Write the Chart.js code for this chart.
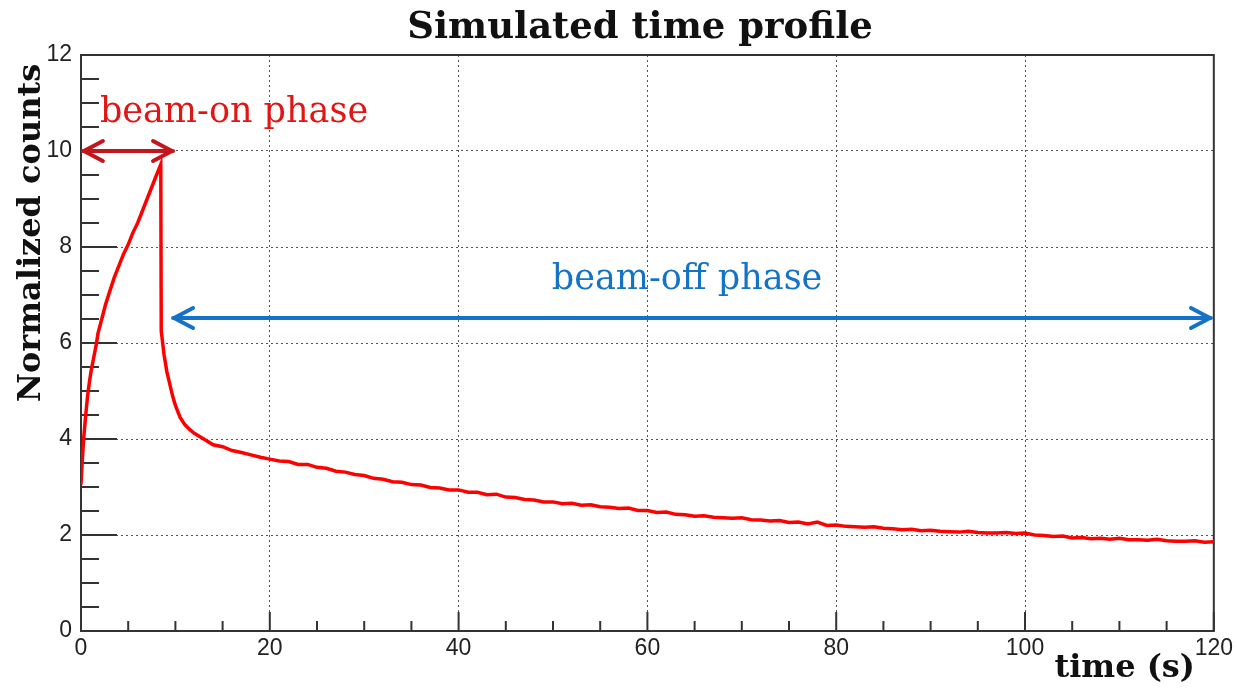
<!DOCTYPE html>
<html>
<head>
<meta charset="utf-8">
<script src="https://cdn.jsdelivr.net/npm/chart.js@4"></script>
<style>
  body { margin: 0; background: #fff; }
  #wrap { width: 1237px; height: 691px; }
</style>
</head>
<body>
<div id="wrap"><canvas id="myChart" width="1237" height="691"></canvas></div>
<script>
// beam-on (rise) part
const riseTimes = [0, 0.15, 0.3, 0.5, 0.7, 0.9, 1.1, 1.35, 1.6, 1.8, 2.2, 2.6, 3.0, 3.5, 4.0, 4.5, 5.0, 5.5, 6.0, 6.5, 7.0, 7.5, 8.0, 8.45];
const riseCounts = [3.05, 3.6, 4.05, 4.5, 4.9, 5.2, 5.45, 5.7, 5.95, 6.2, 6.5, 6.8, 7.05, 7.35, 7.6, 7.85, 8.05, 8.3, 8.5, 8.75, 9.0, 9.25, 9.5, 9.72];

// fast drop right after beam stops
const dropTimes = [8.5, 8.8, 9.1, 9.4, 9.7, 10.0, 10.5, 11, 11.5, 12, 13, 14, 15, 16, 17, 18, 19];
const dropCounts = [6.25, 5.75, 5.4, 5.15, 4.9, 4.7, 4.45, 4.3, 4.2, 4.12, 4.0, 3.88, 3.84, 3.76, 3.72, 3.67, 3.62];

// slow tail, one reading per second
const tailTimes = [20, 21, 22, 23, 24, 25, 26, 27, 28, 29,
  30, 31, 32, 33, 34, 35, 36, 37, 38, 39,
  40, 41, 42, 43, 44, 45, 46, 47, 48, 49,
  50, 51, 52, 53, 54, 55, 56, 57, 58, 59,
  60, 61, 62, 63, 64, 65, 66, 67, 68, 69,
  70, 71, 72, 73, 74, 75, 76, 77, 78, 79,
  80, 81, 82, 83, 84, 85, 86, 87, 88, 89,
  90, 91, 92, 93, 94, 95, 96, 97, 98, 99,
  100, 101, 102, 103, 104, 105, 106, 107, 108, 109,
  110, 111, 112, 113, 114, 115, 116, 117, 118, 119, 120];
const tailCounts = [3.58, 3.54, 3.53, 3.47, 3.47, 3.41, 3.39, 3.33, 3.31, 3.26,
  3.24, 3.18, 3.16, 3.11, 3.10, 3.05, 3.04, 2.99, 2.98, 2.94,
  2.94, 2.89, 2.89, 2.84, 2.85, 2.79, 2.78, 2.74, 2.73, 2.69,
  2.69, 2.65, 2.66, 2.62, 2.63, 2.59, 2.58, 2.55, 2.56, 2.51,
  2.51, 2.47, 2.48, 2.43, 2.42, 2.39, 2.40, 2.37, 2.36, 2.35,
  2.36, 2.32, 2.31, 2.29, 2.30, 2.26, 2.27, 2.23, 2.27, 2.20,
  2.21, 2.18, 2.17, 2.16, 2.17, 2.14, 2.13, 2.11, 2.12, 2.09,
  2.10, 2.08, 2.07, 2.06, 2.08, 2.05, 2.04, 2.04, 2.05, 2.03,
  2.04, 2.00, 1.99, 1.97, 1.98, 1.94, 1.95, 1.92, 1.93, 1.91,
  1.93, 1.90, 1.90, 1.89, 1.91, 1.88, 1.87, 1.87, 1.88, 1.85, 1.86];

const xTicks = [0, 20, 40, 60, 80, 100, 120];
const yTicks = [0, 2, 4, 6, 8, 10, 12];

// arrows and labels, in data units
const beamOnArrow = [0.2, 9.75, 10];
const beamOffArrow = [9.75, 119.7, 6.52];
const beamOnText = ['beam-on phase', 2.0, 10.79];
const beamOffText = ['beam-off phase', 64.2, 7.31];

const points = [];
[[riseTimes, riseCounts], [dropTimes, dropCounts], [tailTimes, tailCounts]].forEach(([ts, cs]) => {
  ts.forEach((t, i) => points.push({ x: t, y: cs[i] }));
});

function arrow(ctx, xa, xb, y, color) {
  const h = 20, w = 10;
  ctx.save();
  ctx.strokeStyle = color;
  ctx.lineWidth = 4;
  ctx.lineCap = 'round';
  ctx.lineJoin = 'round';
  ctx.beginPath();
  ctx.moveTo(xa, y); ctx.lineTo(xb, y);
  ctx.moveTo(xa + h, y - w); ctx.lineTo(xa + 1, y); ctx.lineTo(xa + h, y + w);
  ctx.moveTo(xb - h, y - w); ctx.lineTo(xb - 1, y); ctx.lineTo(xb - h, y + w);
  ctx.stroke();
  ctx.restore();
}

const rootFrame = {
  id: 'rootFrame',
  beforeDatasetsDraw(chart) {
    const { ctx, chartArea: a, scales: { x, y } } = chart;
    ctx.save();
    ctx.strokeStyle = '#333';
    ctx.lineWidth = 2;
    ctx.strokeRect(a.left, a.top, a.right - a.left, a.bottom - a.top);
    ctx.beginPath();
    for (let v = 0; v <= 12.001; v += 0.5) {
      const p = y.getPixelForValue(v);
      const len = Math.abs(v % 2) < 0.01 ? 36 : 18;
      ctx.moveTo(a.left, p); ctx.lineTo(a.left + len, p);
    }
    for (let v = 0; v <= 120.001; v += 5) {
      const p = x.getPixelForValue(v);
      const len = v % 20 === 0 ? 19 : 10;
      ctx.moveTo(p, a.bottom); ctx.lineTo(p, a.bottom - len);
    }
    ctx.stroke();
    ctx.restore();
  },
  afterDatasetsDraw(chart) {
    const { ctx, scales: { x, y } } = chart;
    arrow(ctx, x.getPixelForValue(beamOnArrow[0]), x.getPixelForValue(beamOnArrow[1]), y.getPixelForValue(beamOnArrow[2]), '#c3151c');
    arrow(ctx, x.getPixelForValue(beamOffArrow[0]), x.getPixelForValue(beamOffArrow[1]), y.getPixelForValue(beamOffArrow[2]), '#1573c6');
    ctx.save();
    ctx.textBaseline = 'middle';
    ctx.font = '35px "DejaVu Serif"';
    ctx.fillStyle = '#e01515';
    ctx.textAlign = 'left';
    ctx.fillText(beamOnText[0], x.getPixelForValue(beamOnText[1]), y.getPixelForValue(beamOnText[2]));
    ctx.fillStyle = '#1573c6';
    ctx.textAlign = 'center';
    ctx.fillText(beamOffText[0], x.getPixelForValue(beamOffText[1]), y.getPixelForValue(beamOffText[2]));

    // titles
    ctx.fillStyle = '#111';
    ctx.font = 'bold 37px "DejaVu Serif"';
    ctx.textAlign = 'center';
    ctx.fillText('Simulated time profile', 640, 28);
    ctx.font = 'bold 32px "DejaVu Serif"';
    ctx.textAlign = 'right';
    ctx.fillText('time (s)', 1195, 669);
    ctx.translate(32, 233);
    ctx.rotate(-Math.PI / 2);
    ctx.textAlign = 'center';
    ctx.fillText('Normalized counts', 0, 0);
    ctx.restore();
  }
};

const data = {
  datasets: [{
    label: 'counts',
    data: points,
    borderColor: '#ff0000',
    borderWidth: 3.5,
    pointRadius: 0,
    tension: 0,
  }],
};

const config = {
  type: 'line',
  data,
  options: {
    responsive: false,
    animation: false,
    layout: { padding: { left: 26, right: 21, top: 55, bottom: 20 } },
    plugins: {
      legend: { display: false },
      tooltip: { enabled: false },
    },
    scales: {
      x: {
        type: 'linear',
        min: 0,
        max: 120,
        afterFit: (s) => { s.height = 40; },
        afterBuildTicks: (s) => { s.ticks = xTicks.map(v => ({ value: v })); },
        ticks: { color: '#222', padding: 4, font: { family: '"Liberation Sans"', size: 23 } },
        grid: { color: '#555', lineWidth: 1, drawTicks: false },
        border: { display: false, dash: [2, 3] },
      },
      y: {
        min: 0,
        max: 12,
        afterFit: (s) => { s.width = 55; },
        afterBuildTicks: (s) => { s.ticks = yTicks.map(v => ({ value: v })); },
        ticks: { color: '#222', padding: 9, font: { family: '"Liberation Sans"', size: 23 } },
        grid: { color: '#555', lineWidth: 1, drawTicks: false },
        border: { display: false, dash: [2, 3] },
      },
    },
  },
  plugins: [rootFrame],
};

const ctx = document.getElementById('myChart');
const chart = new Chart(ctx, config);
</script>
</body>
</html>
